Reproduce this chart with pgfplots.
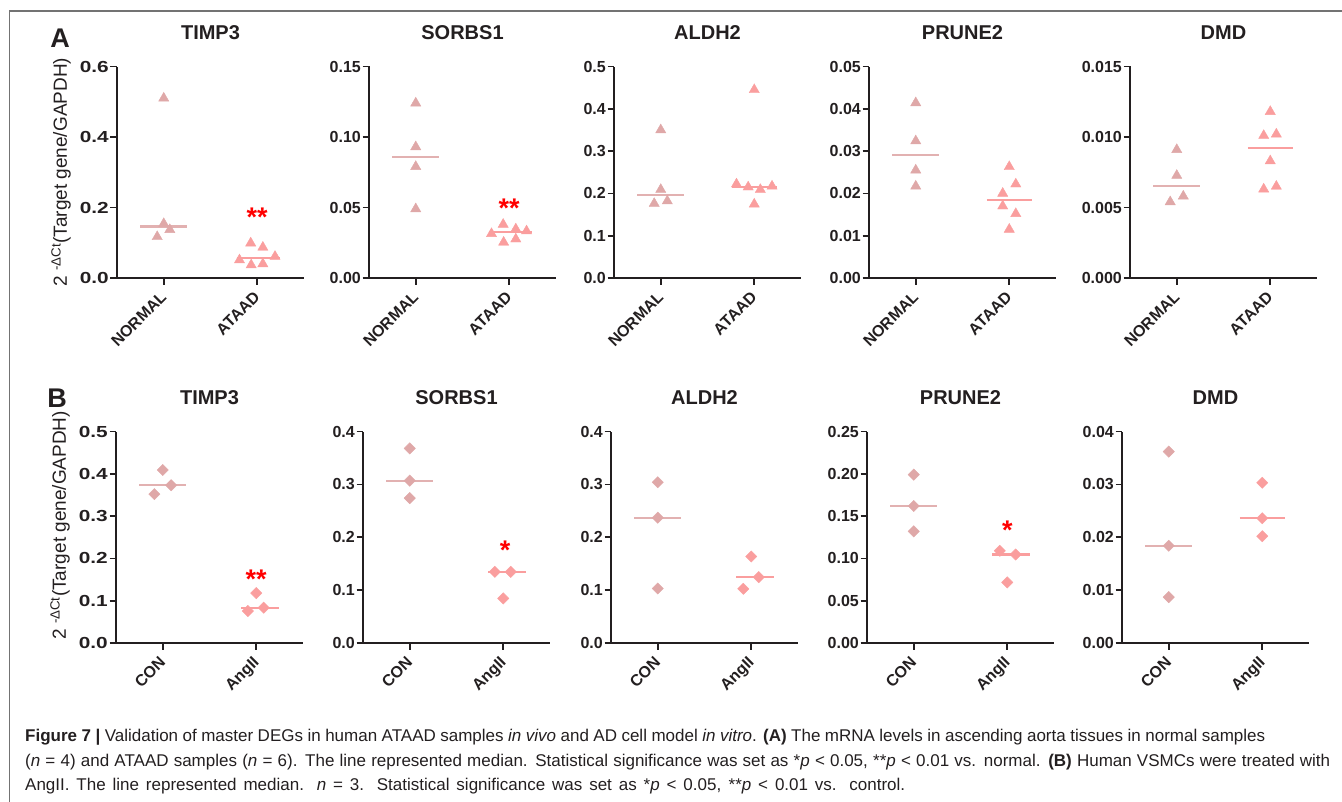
\documentclass[border=0pt]{standalone}
\usepackage{graphicx}
\usepackage{pgfplots}
\pgfplotsset{compat=1.18}
\usepackage{fontspec}
\setmainfont{Liberation Sans}

\definecolor{grpone}{RGB}{223,168,168}
\definecolor{grptwo}{RGB}{250,158,158}
\definecolor{axblack}{RGB}{35,31,32}
\definecolor{framegray}{RGB}{115,115,115}

\pgfplotsset{
  panel/.style={
    scale only axis, width=187pt, height=211.5pt,
    axis lines*=left,
    axis line style={line width=1.9pt, axblack},
    xmin=0.5, xmax=2.5, ymin=0, xtick={1,2},
    scaled y ticks=false,
    tick align=outside, major tick length=6.5pt,
    every tick/.style={line width=1.6pt, axblack},
    tick label style={font=\bfseries\fontsize{16}{16}\selectfont, text=axblack},
    x tick label style={rotate=45, anchor=north east, inner sep=1pt, xshift=-6pt},
    y tick label style={inner sep=1.5pt},
    /pgf/number format/assume math mode=true,
    yticklabel style={/pgf/number format/fixed, /pgf/number format/fixed zerofill},
    title style={font=\bfseries\fontsize{20}{24}\selectfont, at={(0.5,1)}, anchor=center, yshift=28pt, text=axblack},
    ylabel style={font=\fontsize{19}{21}\selectfont, text=axblack},
    ylabel shift=4pt,
    clip=false,
  },
  firstcol/.style={yticklabel={\scalebox{1.3}[1]{\pgfmathprintnumber{\tick}}}},
  tri1/.style={only marks, mark=triangle*, mark size=5.9pt, color=grpone},
  tri2/.style={only marks, mark=triangle*, mark size=5.9pt, color=grptwo},
  dia1/.style={only marks, mark=square*, mark size=4pt, mark options={rotate=45}, color=grpone},
  dia2/.style={only marks, mark=square*, mark size=4pt, mark options={rotate=45}, color=grptwo},
  med1/.style={no marks, line width=2.2pt, color=grpone!90!white},
  med2/.style={no marks, line width=2.2pt, color=grptwo},
  rowA/.style={xticklabels={NORMAL,ATAAD}},
  rowB/.style={xticklabels={CON,AngII}},
}
\tikzset{sig/.style={text=red, font=\bfseries\fontsize{27}{27}\selectfont, inner sep=0pt, yshift=-6pt}}
\newcommand{\ylab}{2 \textsuperscript{-ΔCt}(Target gene/GAPDH)}

\begin{document}
\begin{tikzpicture}
\path[use as bounding box] (0,0) rectangle (1342pt,-802pt);
\draw[framegray, line width=1.3pt] (9.5pt,-802pt) -- (9.5pt,-11pt) -- (1342pt,-11pt);

\node[font=\bfseries\fontsize{27}{27}\selectfont, text=axblack] at (60pt,-38pt) {A};
\node[font=\bfseries\fontsize{27}{27}\selectfont, text=axblack] at (57pt,-398pt) {B};

% ---------------- row A: tissues ----------------
\begin{axis}[panel, rowA, firstcol, at={(117pt,-278pt)}, anchor=south west, title={TIMP3},
  ymax=0.6, ytick={0,0.2,0.4,0.6}, yticklabel style={/pgf/number format/precision=1},
  ylabel={\ylab}]
\addplot[tri1] coordinates {(1,0.51) (0.93,0.117) (1,0.154) (1.065,0.137)};
\addplot[tri2] coordinates {(1.81,0.051) (1.93,0.099) (1.935,0.037) (2.06,0.087) (2.06,0.040) (2.19,0.061)};
\addplot[med1] coordinates {(0.75,0.146) (1.25,0.146)};
\addplot[med2] coordinates {(1.78,0.056) (2.24,0.056)};
\node[sig] at (axis cs:2,0.19) {**};
\end{axis}

\begin{axis}[panel, rowA, at={(369pt,-278pt)}, anchor=south west, title={SORBS1},
  ymax=0.15, ytick={0,0.05,0.10,0.15}, yticklabel style={/pgf/number format/precision=2}]
\addplot[tri1] coordinates {(1,0.124) (1,0.093) (1,0.079) (1,0.049)};
\addplot[tri2] coordinates {(1.81,0.0314) (1.935,0.038) (1.94,0.0253) (2.07,0.0347) (2.07,0.0276) (2.185,0.0333)};
\addplot[med1] coordinates {(0.75,0.086) (1.25,0.086)};
\addplot[med2] coordinates {(1.78,0.0326) (2.24,0.0326)};
\node[sig] at (axis cs:2,0.054) {**};
\end{axis}

\begin{axis}[panel, rowA, at={(614pt,-278pt)}, anchor=south west, title={ALDH2},
  ymax=0.5, ytick={0,0.1,...,0.5}, yticklabel style={/pgf/number format/precision=1}]
\addplot[tri1] coordinates {(1,0.35) (1,0.209) (0.93,0.176) (1.07,0.182)};
\addplot[tri2] coordinates {(2,0.445) (1.81,0.222) (1.935,0.215) (2.065,0.209) (2.19,0.217) (2,0.1745)};
\addplot[med1] coordinates {(0.75,0.1955) (1.25,0.1955)};
\addplot[med2] coordinates {(1.76,0.216) (2.24,0.216)};
\end{axis}

\begin{axis}[panel, rowA, at={(869pt,-278pt)}, anchor=south west, title={PRUNE2},
  ymax=0.05, ytick={0,0.01,0.02,0.03,0.04,0.05}, yticklabel style={/pgf/number format/precision=2}]
\addplot[tri1] coordinates {(1,0.0414) (1,0.0324) (1,0.0255) (1,0.0217)};
\addplot[tri2] coordinates {(2,0.0263) (2.07,0.0222) (1.93,0.0200) (1.93,0.0170) (2.07,0.0152) (2,0.0115)};
\addplot[med1] coordinates {(0.75,0.029) (1.25,0.029)};
\addplot[med2] coordinates {(1.76,0.0185) (2.24,0.0185)};
\end{axis}

\begin{axis}[panel, rowA, at={(1130pt,-278pt)}, anchor=south west, title={DMD},
  ymax=0.015, ytick={0,0.005,0.010,0.015}, yticklabel style={/pgf/number format/precision=3}]
\addplot[tri1] coordinates {(1,0.0091) (1,0.00727) (1.07,0.0058) (0.93,0.0054)};
\addplot[tri2] coordinates {(2,0.0118) (1.93,0.0101) (2.065,0.0102) (2,0.0083) (1.93,0.0063) (2.065,0.0065)};
\addplot[med1] coordinates {(0.75,0.0065) (1.25,0.0065)};
\addplot[med2] coordinates {(1.76,0.0092) (2.24,0.0092)};
\end{axis}

% ---------------- row B: cells ----------------
\begin{axis}[panel, rowB, firstcol, at={(116pt,-643pt)}, anchor=south west, title={TIMP3},
  ymax=0.5, ytick={0,0.1,...,0.5}, yticklabel style={/pgf/number format/precision=1},
  ylabel={\ylab}, ylabel style={at={(ticklabel cs:0.556)}}]
\addplot[dia1] coordinates {(1,0.409) (1.09,0.373) (0.91,0.352)};
\addplot[dia2] coordinates {(2,0.118) (2.08,0.0835) (1.91,0.0756)};
\addplot[med1] coordinates {(0.75,0.373) (1.25,0.373)};
\addplot[med2] coordinates {(1.84,0.0835) (2.24,0.0835)};
\node[sig] at (axis cs:2,0.165) {**};
\end{axis}

\begin{axis}[panel, rowB, at={(363pt,-643pt)}, anchor=south west, title={SORBS1},
  ymax=0.4, ytick={0,0.1,...,0.4}, yticklabel style={/pgf/number format/precision=1}]
\addplot[dia1] coordinates {(1,0.368) (1,0.307) (1,0.274)};
\addplot[dia2] coordinates {(1.91,0.1346) (2.08,0.1346) (2,0.0843)};
\addplot[med1] coordinates {(0.75,0.307) (1.25,0.307)};
\addplot[med2] coordinates {(1.84,0.1346) (2.24,0.1346)};
\node[sig] at (axis cs:2.02,0.187) {*};
\end{axis}

\begin{axis}[panel, rowB, at={(611pt,-643pt)}, anchor=south west, title={ALDH2},
  ymax=0.4, ytick={0,0.1,...,0.4}, yticklabel style={/pgf/number format/precision=1}]
\addplot[dia1] coordinates {(1,0.304) (1,0.237) (1,0.103)};
\addplot[dia2] coordinates {(2,0.1635) (2.08,0.1245) (1.915,0.1025)};
\addplot[med1] coordinates {(0.75,0.237) (1.25,0.237)};
\addplot[med2] coordinates {(1.84,0.1245) (2.24,0.1245)};
\end{axis}

\begin{axis}[panel, rowB, at={(867pt,-643pt)}, anchor=south west, title={PRUNE2},
  ymax=0.25, ytick={0,0.05,0.10,0.15,0.20,0.25}, yticklabel style={/pgf/number format/precision=2}]
\addplot[dia1] coordinates {(1,0.199) (1,0.162) (1,0.132)};
\addplot[dia2] coordinates {(1.92,0.109) (2.09,0.1046) (2,0.0716)};
\addplot[med1] coordinates {(0.75,0.162) (1.25,0.162)};
\addplot[med2] coordinates {(1.84,0.1046) (2.24,0.1046)};
\node[sig] at (axis cs:2,0.140) {*};
\end{axis}

\begin{axis}[panel, rowB, at={(1122pt,-643pt)}, anchor=south west, title={DMD},
  ymax=0.04, ytick={0,0.01,0.02,0.03,0.04}, yticklabel style={/pgf/number format/precision=2}]
\addplot[dia1] coordinates {(1,0.0362) (1,0.0184) (1,0.00868)};
\addplot[dia2] coordinates {(2,0.0303) (2,0.0236) (2,0.0202)};
\addplot[med1] coordinates {(0.75,0.0184) (1.25,0.0184)};
\addplot[med2] coordinates {(1.76,0.0236) (2.24,0.0236)};
\end{axis}

% ---------------- caption ----------------
\begin{scope}[every node/.style={anchor=base west, inner sep=0pt, font=\fontsize{17}{20}\selectfont, text=axblack}]
\node at (25pt,-741pt) {\makebox[1240pt][s]{\textbf{Figure 7 |} Validation of master DEGs in human ATAAD samples \textit{in vivo} and AD cell model \textit{in vitro}. \textbf{(A)} The mRNA levels in ascending aorta tissues in normal samples}};
\node at (25pt,-766pt) {\makebox[1305pt][s]{(\textit{n} = 4) and ATAAD samples (\textit{n} = 6). The line represented median. Statistical significance was set as *\textit{p} < 0.05, **\textit{p} < 0.01 vs. normal. \textbf{(B)} Human VSMCs were treated with}};
\node at (25pt,-790pt) {\makebox[880pt][s]{AngII. The line represented median. \textit{n} = 3. Statistical significance was set as *\textit{p} < 0.05, **\textit{p} < 0.01 vs. control.}};
\end{scope}
\end{tikzpicture}
\end{document}
